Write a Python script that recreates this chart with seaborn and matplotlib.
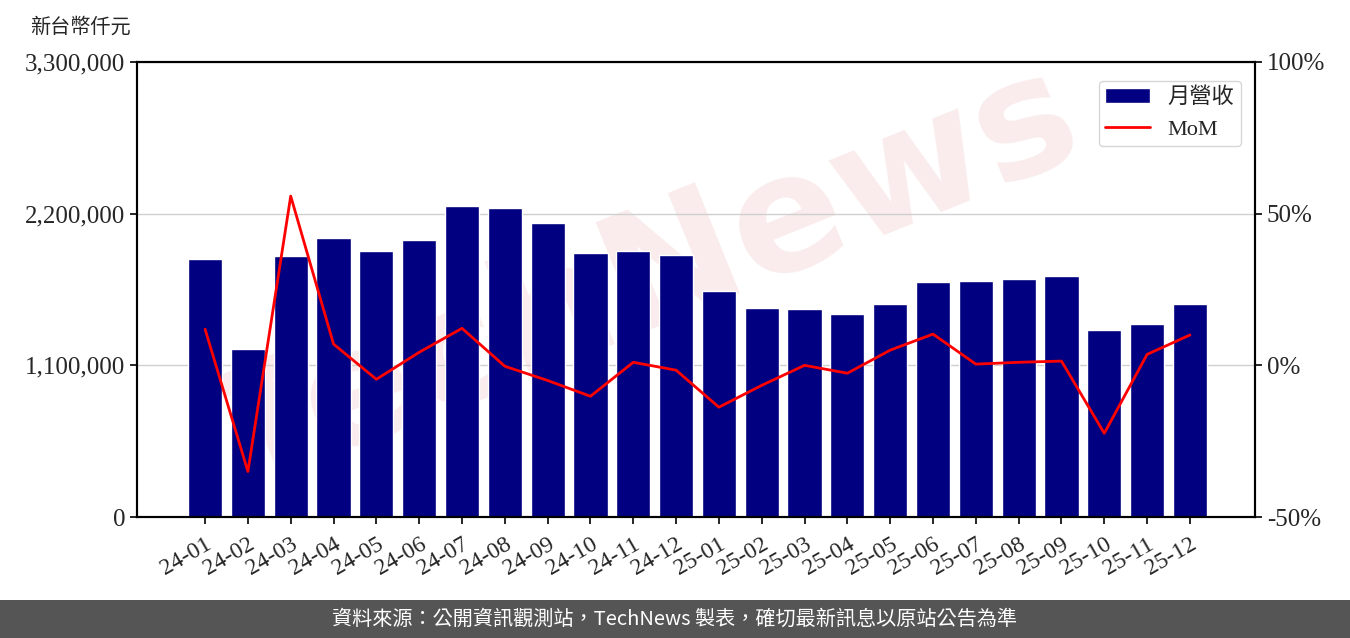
import numpy as np
import pandas as pd
import matplotlib
matplotlib.use("Agg")
import matplotlib.pyplot as plt
import seaborn as sns

# data
months = ["24-01", "24-02", "24-03", "24-04", "24-05", "24-06", "24-07", "24-08",
          "24-09", "24-10", "24-11", "24-12", "25-01", "25-02", "25-03", "25-04",
          "25-05", "25-06", "25-07", "25-08", "25-09", "25-10", "25-11", "25-12"]
revenue = [1871000, 1218000, 1893000, 2023000, 1929000, 2009000, 2256000, 2241000,
           2132000, 1915000, 1929000, 1900000, 1639000, 1516000, 1509000, 1472000,
           1545000, 1704000, 1712000, 1726000, 1748000, 1356000, 1400000, 1545000]
mom = [11.9, -35.0, 55.8, 7.0, -4.6, 4.3, 12.2, -0.3, -5.0, -10.2, 1.0, -1.6,
       -13.8, -6.6, 0.0, -2.6, 5.0, 10.3, 0.4, 1.0, 1.4, -22.4, 3.6, 10.0]

df = pd.DataFrame({"month": months, "revenue": revenue, "mom": mom})

sns.set_theme(style="white")
num_font = ["Liberation Serif", "Noto Sans CJK TC"]
cjk_font = ["Noto Sans CJK TC", "DejaVu Sans"]
plt.rcParams["font.family"] = num_font

fig = plt.figure(figsize=(13.5, 6.38), dpi=100)
ax = fig.add_axes([137 / 1350, 1 - 517 / 638, (1255 - 137) / 1350, (517 - 62) / 638])
ax.set_zorder(1)

# faint watermark behind the plot
fig.text(0.48, 0.56, "TechNews", fontsize=118, color="#e8a8a8", alpha=0.22,
         rotation=22, ha="center", va="center", family="DejaVu Sans",
         fontweight="bold", zorder=-1)

sns.barplot(data=df, x="month", y="revenue", color="#000080", saturation=1,
            width=0.8, ax=ax, label="月營收", zorder=2)
if ax.get_legend():
    ax.get_legend().remove()
ax.set_xlim(-1.59, len(months) - 1 + 1.52)
ax.set_ylim(0, 3300000)
ax.set_yticks([0, 1100000, 2200000, 3300000])
ax.set_yticklabels(["0", "1,100,000", "2,200,000", "3,300,000"], fontsize=18)
ax.yaxis.grid(True, color="#d0d0d0", linewidth=1, zorder=0)
ax.set_axisbelow(True)
ax.set_xlabel("")
ax.set_ylabel("")
ax.set_xticks(range(len(months)))
ax.set_xticklabels(months, rotation=30, ha="right", rotation_mode="anchor", fontsize=17)
ax.tick_params(axis="both", length=5, width=1.2, color="black", left=True, bottom=True)
ax.tick_params(axis="x", pad=7)
ax.patch.set_alpha(0)
for s in ax.spines.values():
    s.set_color("black")
    s.set_linewidth(1.5)

ax2 = ax.twinx()
sns.lineplot(x=np.arange(len(months)), y=df["mom"], color="red", linewidth=2,
             ax=ax2, label="MoM")
ax2.set_ylim(-50, 100)
ax2.set_yticks([-50, 0, 50, 100])
ax2.set_yticklabels(["-50%", "0%", "50%", "100%"], fontsize=18)
ax2.set_ylabel("")
ax2.tick_params(axis="y", length=5, width=1.2, color="black", right=True)
for s in ax2.spines.values():
    s.set_color("black")
    s.set_linewidth(1.5)

h1, l1 = ax.get_legend_handles_labels()
h2, l2 = ax2.get_legend_handles_labels()
if ax2.get_legend():
    ax2.get_legend().remove()
ax2.legend(h1 + h2, l1 + l2, loc="upper right", frameon=True,
           prop={"family": num_font, "size": 16}, borderpad=0.3,
           handlelength=2.0, bbox_to_anchor=(0.9975, 0.983))

fig.text(30 / 1350, 1 - 27 / 638, "新台幣仟元", fontsize=14.5, family=cjk_font,
         va="center", ha="left")

# footer bar
fig.patches.append(plt.Rectangle((0, 0), 1, 38 / 638, transform=fig.transFigure,
                                 facecolor="#555555", edgecolor="none", zorder=5))
fig.text(0.5, 19 / 638, "資料來源：公開資訊觀測站，TechNews 製表，確切最新訊息以原站公告為準",
         color="white", fontsize=14.5, family=cjk_font, ha="center", va="center", zorder=6)

fig.savefig("out.png", dpi=100)
